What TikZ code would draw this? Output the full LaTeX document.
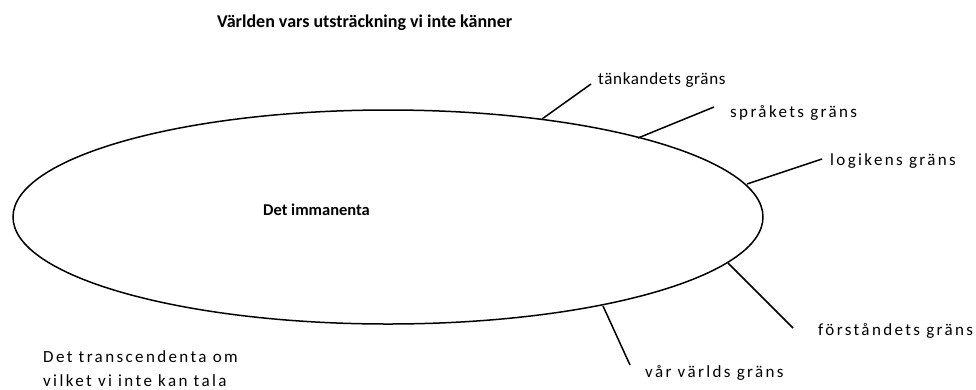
\documentclass[tikz,border=0pt]{standalone}
\usepackage{fontspec}
\setmainfont{Carlito}
\newfontfamily\lblfont[LetterSpace=14]{Carlito}
\newfontfamily\lblfonttight[LetterSpace=4]{Carlito}
\begin{document}
\begin{tikzpicture}[x=1pt,y=-1pt,
  lbl/.style={anchor=base west,inner sep=0pt,font=\lblfont\fontsize{17}{24}\selectfont},
  lbltight/.style={anchor=base west,inner sep=0pt,font=\lblfonttight\fontsize{17}{24}\selectfont},
  ttl/.style={anchor=base west,inner sep=0pt,font=\fontsize{18}{20}\selectfont\bfseries},
  imm/.style={anchor=base west,inner sep=0pt,font=\fontsize{16.5}{18}\selectfont\bfseries},
  tick/.style={line width=1.5pt}]
\useasboundingbox (0,0) rectangle (976,389);
\draw[line width=1.5pt] (388,217) ellipse [x radius=375, y radius=107];
\node[ttl] (title) at (217,27) {Världen vars utsträckning vi inte känner};
\node[imm] (imm) at (263,215) {Det immanenta};
\node[lbl,align=left,anchor=base west] (trans) at (43,386) {Det transcendenta om\\vilket vi inte kan tala};
\node[lbltight] (t1) at (598,84) {tänkandets gräns};
\node[lbl] (t2) at (730,117) {språkets gräns};
\node[lbl] (t3) at (830,165) {logikens gräns};
\node[lbl] (t4) at (818,335) {förståndets gräns};
\node[lbl] (t5) at (645,377) {vår världs gräns};
\coordinate (s1) at (542,119);
\coordinate (s2) at (638,138);
\coordinate (s3) at (747,184);
\coordinate (s4) at (728,263);
\coordinate (s5) at (603,306);
\coordinate (e1) at (591,84);
\coordinate (e2) at (714,107);
\coordinate (e3) at (822,159);
\coordinate (e4) at (793,328);
\coordinate (e5) at (630,365);
\draw[tick] (s1) -- (e1);
\draw[tick] (s2) -- (e2);
\draw[tick] (s3) -- (e3);
\draw[tick] (s4) -- (e4);
\draw[tick] (s5) -- (e5);
\end{tikzpicture}
\end{document}
